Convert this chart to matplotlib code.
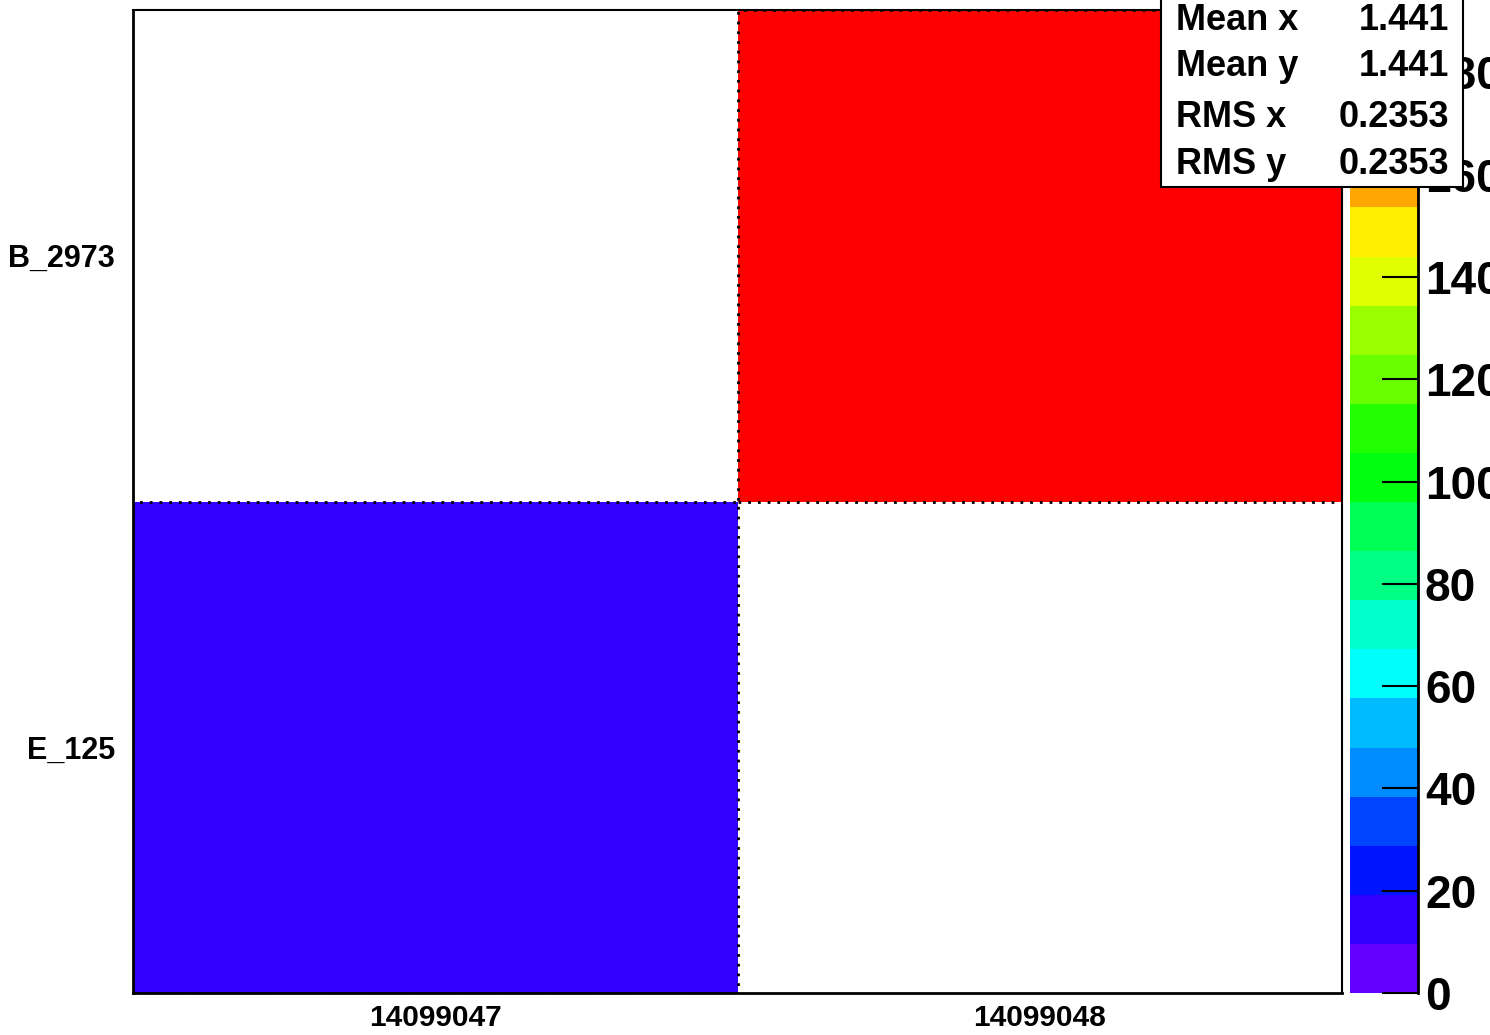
import colorsys
import numpy as np
import matplotlib
matplotlib.use("Agg")
from matplotlib import pyplot as plt
from matplotlib.colors import ListedColormap, BoundaryNorm
from matplotlib.patches import Rectangle

# Data
x_labels = ["14099047", "14099048"]
y_labels = ["E_125", "B_2973"]
# counts[row(y), col(x)]
counts = np.array([[12, 0],
                   [0, 192]])
z_max = 192
n_contours = 20
cbar_ticks = [0, 20, 40, 60, 80, 100, 120, 140, 160, 180]
stats_names = ["Mean x", "Mean y", "RMS x", "RMS y"]
stats_values = ["1.441", "1.441", "0.2353", "0.2353"]

plt.rcParams['font.family'] = ['Liberation Sans', 'DejaVu Sans']
plt.rcParams['font.weight'] = 'bold'

W, H = 1490, 1035


def rect(x0, y0, x1, y1):
    # pixel box (top-left origin) -> figure fraction
    return [x0 / W, 1 - y1 / H, (x1 - x0) / W, (y1 - y0) / H]


# ROOT "pretty" palette picked for 20 contours
colors = []
for k in range(n_contours):
    idx = int((k + 0.99) * 50 / n_contours)
    hue = (280 - (idx + 1) * 5.6) / 360.0
    colors.append(colorsys.hls_to_rgb(hue, 0.5, 1.0))
cmap = ListedColormap(colors)
levels = np.linspace(0, z_max, n_contours + 1)
norm = BoundaryNorm(levels, cmap.N)

fig = plt.figure(figsize=(W / 100, H / 100), dpi=100)
ax = fig.add_axes(rect(133, 10, 1342, 993))

data = np.ma.masked_equal(counts, 0)
ax.pcolormesh(np.arange(len(x_labels) + 1), np.arange(len(y_labels) + 1), data,
              cmap=cmap, norm=norm)

# dotted borders round filled cells
for j in range(counts.shape[0]):
    for i in range(counts.shape[1]):
        if counts[j, i] > 0:
            ax.add_patch(Rectangle((i, j), 1, 1, fill=False, edgecolor='black',
                                   linestyle=(0, (1, 2.5)), linewidth=2, zorder=3))

ax.set_xlim(0, len(x_labels))
ax.set_ylim(0, len(y_labels))
ax.set_xticks(np.arange(len(x_labels)) + 0.5)
ax.set_xticklabels(x_labels, fontsize=21.5, fontweight='bold')
ax.set_yticks(np.arange(len(y_labels)) + 0.5)
ax.set_yticklabels(y_labels, fontsize=22, fontweight='bold')
ax.tick_params(axis='both', length=0)
ax.tick_params(axis='x', pad=8)
ax.tick_params(axis='y', pad=13)
ax.spines['left'].set_linewidth(2)
ax.spines['bottom'].set_linewidth(2)
ax.spines['right'].set_linewidth(1.5)
ax.spines['top'].set_linewidth(1.5)
ax.spines['top'].set_linestyle((0, (3, 1)))

# colour scale
cax = fig.add_axes(rect(1350, 11, 1418, 993))
cax.pcolormesh([0, 1], levels, levels[:-1].reshape(-1, 1), cmap=cmap, norm=norm)
cax.set_xlim(0, 1)
cax.set_ylim(0, z_max)
cax.set_xticks([])
for side in ['left', 'top', 'bottom']:
    cax.spines[side].set_visible(False)
cax.spines['right'].set_linewidth(2)
cax.yaxis.tick_right()
cax.set_yticks(cbar_ticks)
cax.set_yticklabels([str(t) for t in cbar_ticks], fontsize=33, fontweight='bold')
cax.tick_params(axis='y', direction='in', length=26, width=1.5, pad=5)
cax.tick_params(axis='y', which='minor', length=0)

# stats box
sax = fig.add_axes(rect(1161, -10, 1463, 187))
sax.set_xlim(1161, 1463)
sax.set_ylim(187, -10)
sax.set_xticks([])
sax.set_yticks([])
sax.set_facecolor('white')
for s in sax.spines.values():
    s.set_linewidth(1.5)
baselines = [30, 76, 127, 174]
for name, val, yb in zip(stats_names, stats_values, baselines):
    sax.text(1176, yb, name, fontsize=26, fontweight='bold', va='baseline', ha='left')
    sax.text(1449, yb, val, fontsize=26, fontweight='bold', va='baseline', ha='right')

fig.savefig("out.png", dpi=100)
